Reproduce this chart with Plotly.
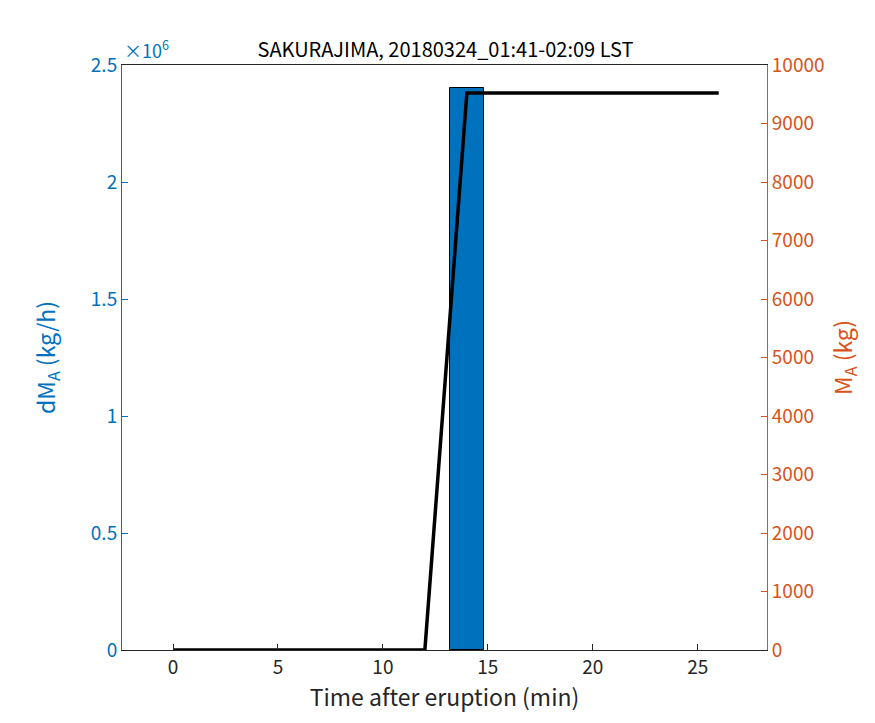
import plotly.graph_objects as go

t = [0, 2, 4, 6, 8, 10, 12, 14, 16, 18, 20, 22, 24, 26]
dM = [0, 0, 0, 0, 0, 0, 0, 2.4e6, 0, 0, 0, 0, 0, 0]
M = [0, 0, 0, 0, 0, 0, 0, 9520, 9520, 9520, 9520, 9520, 9520, 9520]

blue = "#0072BD"
orange = "#D95319"
font = "Noto Sans CJK JP"

fig = go.Figure()
fig.add_trace(go.Bar(x=t, y=[v / 1e6 for v in dM], width=1.6,
                     marker=dict(color=blue, line=dict(color="black", width=[1 if v > 0 else 0 for v in dM])), yaxis="y"))
fig.add_trace(go.Scatter(x=t, y=M, mode="lines", line=dict(color="black", width=3.5), yaxis="y2"))

fig.update_layout(
    width=875, height=723, autosize=False, showlegend=False,
    plot_bgcolor="white", paper_bgcolor="white",
    font=dict(family=font, size=19, color="#262626"),
    margin=dict(l=114, r=116, t=57, b=81, autoexpand=False),
    title=dict(text="SAKURAJIMA, 20180324_01:41-02:09 LST", x=0.5, xanchor="center", y=0.942, yanchor="middle", font=dict(size=20, color="black")),
    xaxis=dict(range=[-2.43, 28.3], tickvals=[0, 5, 10, 15, 20, 25], showgrid=False, zeroline=False,
               ticks="inside", ticklen=6, tickcolor="#262626", showline=True, linecolor="#262626", mirror=True,
               title=dict(text="Time after eruption (min)", standoff=2)),
    yaxis=dict(range=[0, 2.5], tickvals=[0, 0.5, 1, 1.5, 2, 2.5], ticktext=["0", "0.5", "1", "1.5", "2", "2.5"],
               showgrid=False, zeroline=False, ticks="inside", ticklen=6, tickcolor=blue,
               showline=True, linecolor=blue, color=blue,
               title=dict(text="dM<sub>A</sub> (kg/h)", font=dict(color=blue), standoff=28)),
    yaxis2=dict(range=[0, 10000], dtick=1000, tickformat="d", overlaying="y", side="right", showgrid=False, zeroline=False,
                ticks="inside", ticklen=6, tickcolor=orange, showline=True, linecolor=orange, color=orange,
                title=dict(text="M<sub>A</sub> (kg)", font=dict(color=orange), standoff=12)),
    bargap=0,
    annotations=[dict(text="×10<sup>6</sup>", x=0, y=1.0, xref="paper", yref="paper", xanchor="left", yanchor="bottom",
                      showarrow=False, font=dict(color=blue, size=18))],
)
fig.write_html("out.html")
